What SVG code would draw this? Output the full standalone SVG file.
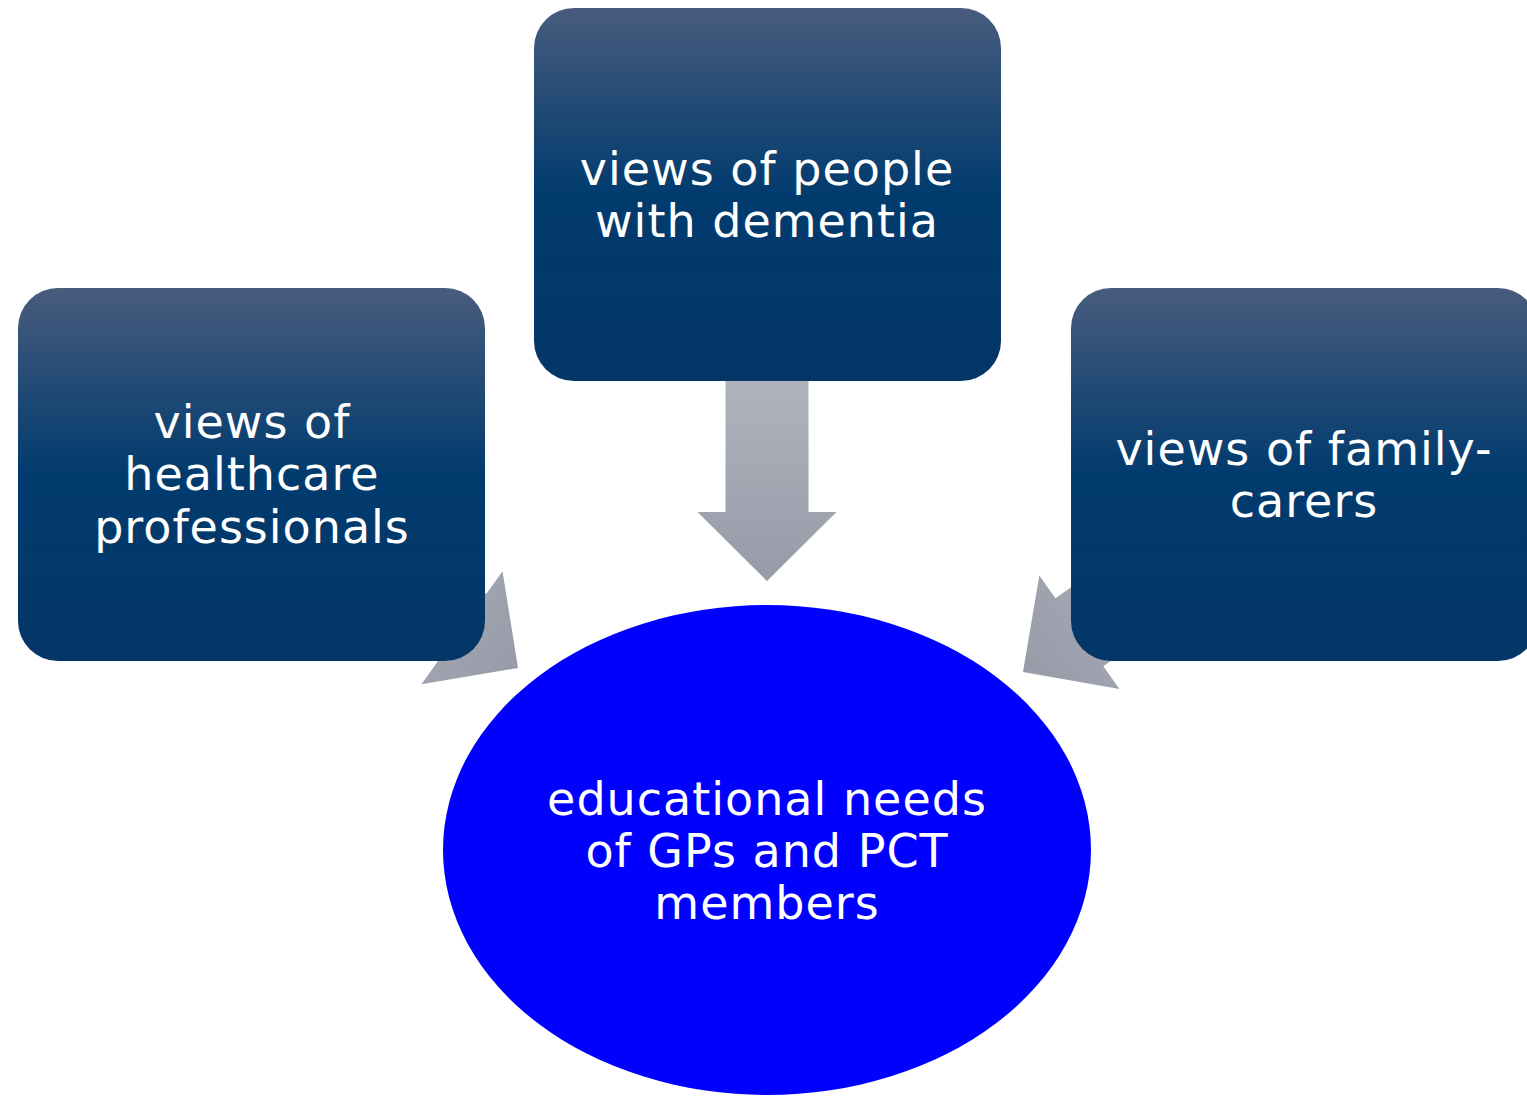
<svg xmlns="http://www.w3.org/2000/svg" width="1527" height="1097" viewBox="0 0 1527 1097">
<defs>
<linearGradient id="boxGrad" x1="0" y1="0" x2="0" y2="1">
<stop offset="0" stop-color="#485c7d"/>
<stop offset="0.5" stop-color="#013b6e"/>
<stop offset="1" stop-color="#043667"/>
</linearGradient>
<linearGradient id="arrowGrad" x1="0" y1="0" x2="0" y2="1">
<stop offset="0" stop-color="#afb3be"/>
<stop offset="1" stop-color="#979ba7"/>
</linearGradient>
<polygon id="arrowShape" points="-41.5,-200 41.5,-200 41.5,-69 69.5,-69 0,0 -69.5,-69 -41.5,-69"/>
</defs>
<style>
.box { fill: url(#boxGrad); }
.arrow { fill: url(#arrowGrad); }
.label { font-family: "DejaVu Sans", Verdana, sans-serif; font-size: 46px; letter-spacing: 1px; fill: #ffffff; text-anchor: middle; }
</style>
<g id="connectors">
<use href="#arrowShape" class="arrow" transform="translate(767,581)"/>
<use href="#arrowShape" class="arrow" transform="translate(518,668) rotate(-54.3)"/>
<use href="#arrowShape" class="arrow" transform="translate(1023,672) rotate(54.8)"/>
</g>
<g id="node-people">
<rect class="box" x="534" y="8" width="467" height="373" rx="40" ry="40"/>
<text class="label" x="767" y="185">views of people</text>
<text class="label" x="767" y="237">with dementia</text>
</g>
<g id="node-healthcare">
<rect class="box" x="18" y="288" width="467" height="373" rx="40" ry="40"/>
<text class="label" x="252" y="438">views of</text>
<text class="label" x="252" y="490">healthcare</text>
<text class="label" x="252" y="543">professionals</text>
</g>
<g id="node-carers">
<rect class="box" x="1071" y="288" width="467" height="373" rx="40" ry="40"/>
<text class="label" x="1304" y="465">views of family-</text>
<text class="label" x="1304" y="517">carers</text>
</g>
<g id="node-needs">
<ellipse cx="767" cy="850" rx="324" ry="245" fill="#0000ff"/>
<text class="label" x="767" y="815">educational needs</text>
<text class="label" x="767" y="867">of GPs and PCT</text>
<text class="label" x="767" y="919">members</text>
</g>
</svg>
